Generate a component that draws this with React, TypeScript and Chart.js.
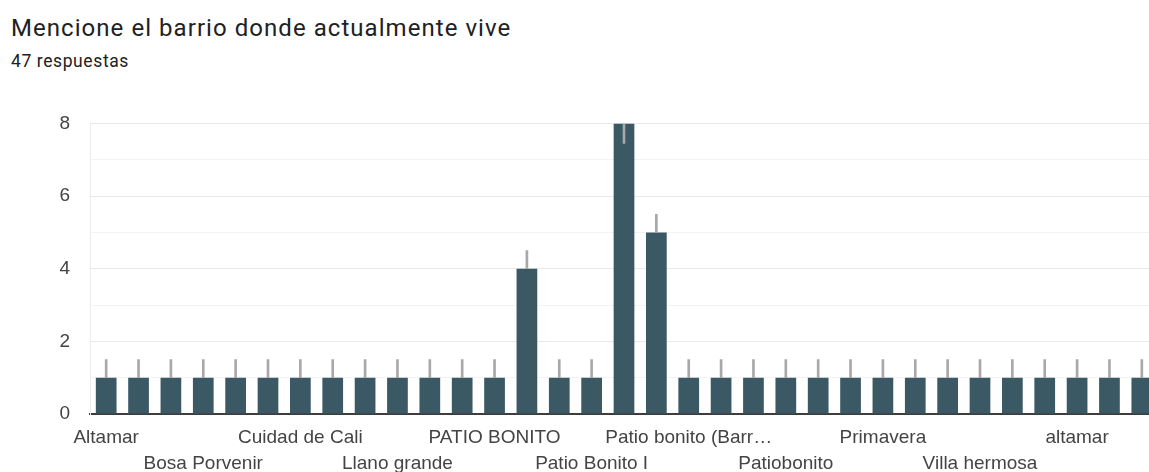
import React, { useEffect, useRef } from 'react';
import { Chart, registerables } from 'chart.js';

Chart.register(...registerables);

const titleText = 'Mencione el barrio donde actualmente vive';
const subtitleText = '47 respuestas';

const categories = [
  'Altamar', 'Bosa', 'Bosa Centro', 'Bosa Porvenir', 'Bosa Recreo', 'Chicalá',
  'Cuidad de Cali', 'El Tintal', 'Kennedy', 'Llano grande', 'Los Almendros', 'Osorio',
  'PATIO BONITO', 'Patio Bonito', 'Patio Bonito 2', 'Patio Bonito I', 'Patio Bonito Tintal', 'Patio bonito',
  'Patio bonito (Barrio Tintal)', 'Patio bonito 2', 'Patio bonito sector 3', 'Patiobonito', 'Perdomo', 'Porvenir',
  'Primavera', 'Tintal', 'Tintalito', 'Villa hermosa', 'Villa hermosa 2', 'Villas de Kennedy',
  'altamar', 'bosa', 'patio bonito',
];

const counts = [
  1, 1, 1, 1, 1, 1,
  1, 1, 1, 1, 1, 1,
  1, 4, 1, 1, 8, 5,
  1, 1, 1, 1, 1, 1,
  1, 1, 1, 1, 1, 1,
  1, 1, 1,
];

// thin grey interval marks drawn by the original chart
const intervalLow = [
  1, 1, 1, 1, 1, 1,
  1, 1, 1, 1, 1, 1,
  1, 4, 1, 1, 7.45, 5,
  1, 1, 1, 1, 1, 1,
  1, 1, 1, 1, 1, 1,
  1, 1, 1,
];
const intervalHigh = [
  1.5, 1.5, 1.5, 1.5, 1.5, 1.5,
  1.5, 1.5, 1.5, 1.5, 1.5, 1.5,
  1.5, 4.5, 1.5, 1.5, 8, 5.5,
  1.5, 1.5, 1.5, 1.5, 1.5, 1.5,
  1.5, 1.5, 1.5, 1.5, 1.5, 1.5,
  1.5, 1.5, 1.5,
];

const yMin = 0;
const yMax = 8;
const labelEvery = 3;
const maxLabelChars = 18;

function shortLabel(s: string): string {
  return s.length > maxLabelChars + 1 ? s.slice(0, maxLabelChars) + '…' : s;
}

export default function App() {
  const canvasRef = useRef<HTMLCanvasElement | null>(null);

  useEffect(() => {
    const canvas = canvasRef.current;
    if (!canvas) return;
    const axisFont = { family: '"Liberation Sans", Arial, sans-serif', size: 19 };
    const chart = new Chart(canvas, {
      type: 'bar',
      data: {
        labels: categories,
        datasets: [
          {
            label: 'intervalo',
            data: categories.map((_, i) => [intervalLow[i], intervalHigh[i]]) as any,
            backgroundColor: '#a8a8a8',
            borderWidth: 0,
            barThickness: 2,
            grouped: false,
            order: 0,
          },
          {
            label: 'respuestas',
            data: counts,
            backgroundColor: '#3a5965',
            borderWidth: 0,
            barPercentage: 0.64,
            categoryPercentage: 1,
            grouped: false,
            order: 1,
          },
        ],
      },
      options: {
        responsive: false,
        animation: false,
        devicePixelRatio: 1,
        layout: { padding: { top: 0, left: 0, right: 0, bottom: 0 } },
        plugins: {
          legend: { display: false },
          title: { display: false },
          tooltip: { enabled: true },
        },
        scales: {
          x: {
            offset: true,
            grid: { display: false, drawTicks: false },
            border: { display: true, color: '#3d3d3d', width: 2 },
            ticks: {
              autoSkip: false,
              maxRotation: 0,
              minRotation: 0,
              padding: 10.5,
              color: '#444444',
              font: { ...axisFont, lineHeight: '26px' } as any,
              callback: (_v: any, index: number) => {
                if (index % labelEvery !== 0) return '';
                const lab = shortLabel(categories[index]);
                return (index / labelEvery) % 2 === 0 ? lab : ['', lab];
              },
            },
            afterFit: (axis: any) => {
              axis.height = 58;
            },
          },
          y: {
            min: yMin,
            max: yMax,
            grid: {
              drawTicks: false,
              color: (ctx: any) => {
                const v = ctx.tick ? ctx.tick.value : 0;
                if (v === 0) return 'rgba(0,0,0,0)';
                return v % 2 === 0 ? '#e9e9e9' : '#f3f3f3';
              },
              lineWidth: 1,
            },
            border: { display: true, color: '#ececec', width: 1 },
            ticks: {
              stepSize: 1,
              padding: 20,
              color: '#444444',
              font: axisFont,
              callback: (v: any) => (Number(v) % 2 === 0 ? String(v) : ''),
            },
            afterFit: (axis: any) => {
              axis.width = 90;
            },
          },
        },
      },
    });
    return () => chart.destroy();
  }, []);

  return (
    <div
      style={{
        position: 'absolute',
        left: 0,
        top: 0,
        width: 1149,
        height: 472,
        overflow: 'hidden',
        background: '#ffffff',
      }}
    >
      <div
        style={{
          position: 'absolute',
          left: 11,
          top: 15.5,
          fontFamily: 'Roboto, "Noto Sans", sans-serif',
          fontSize: 24,
          letterSpacing: '1.05px',
          lineHeight: 1,
          color: '#202124',
          whiteSpace: 'nowrap',
        }}
      >
        {titleText}
      </div>
      <div
        style={{
          position: 'absolute',
          left: 11,
          top: 52.5,
          fontFamily: 'Roboto, "Noto Sans", sans-serif',
          fontSize: 17.5,
          letterSpacing: '0.6px',
          lineHeight: 1,
          color: '#202124',
          whiteSpace: 'nowrap',
        }}
      >
        {subtitleText}
      </div>
      <canvas
        ref={canvasRef}
        width={1158}
        height={380}
        style={{ position: 'absolute', left: 0, top: 92, width: 1158, height: 380 }}
      />
    </div>
  );
}
